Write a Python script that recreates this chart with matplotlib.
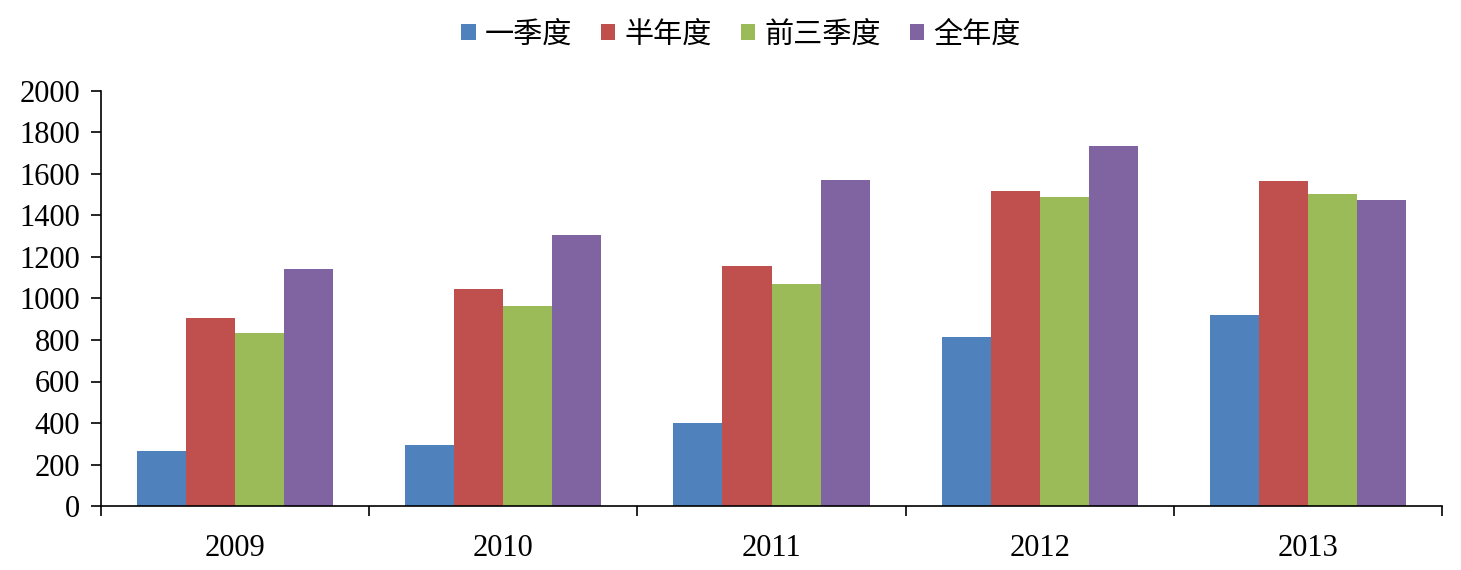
import matplotlib
matplotlib.use('Agg')
import matplotlib.pyplot as plt
import numpy as np

years = ['2009', '2010', '2011', '2012', '2013']
series = ['一季度', '半年度', '前三季度', '全年度']
q1 = [265, 293, 401, 815, 919]
h1 = [904, 1047, 1157, 1517, 1567]
q3 = [833, 965, 1072, 1490, 1503]
fy = [1141, 1308, 1569, 1734, 1475]
colors = ['#4f81bd', '#c0504d', '#9bbb59', '#8064a2']

plt.rcParams['font.family'] = ['Liberation Serif', 'Noto Sans CJK SC']

fig = plt.figure(figsize=(14.61, 5.70), dpi=100)
ax = fig.add_axes([101/1461, 1-506/570, (1442-101)/1461, (506-91)/570])

x = np.arange(len(years))
w = 0.183
for i, (vals, name) in enumerate(zip([q1, h1, q3, fy], series)):
    ax.bar(x + (i - 1.5) * w, vals, w, color=colors[i], label=name)

ax.set_xlim(-0.5, len(years) - 0.5)
ax.set_ylim(0, 2000)
ax.set_yticks(range(0, 2001, 200))
ax.set_xticks(x)
ax.set_xticklabels(years)
ax.set_xticks(np.arange(-0.5, len(years), 1), minor=True)
ax.tick_params(axis='x', which='major', length=0, labelsize=22, pad=20)
ax.tick_params(axis='x', which='minor', length=7, width=1.2, direction='out')
ax.tick_params(axis='y', length=7, width=1.2, direction='out', labelsize=22, pad=8)
for s in ['top', 'right']:
    ax.spines[s].set_visible(False)
for s in ['left', 'bottom']:
    ax.spines[s].set_linewidth(1.2)

leg = fig.legend(loc='upper center', bbox_to_anchor=(0.507, 1.012), ncol=4, frameon=False,
                 prop={'family': ['Noto Sans CJK SC'], 'size': 21},
                 handlelength=0.5, handleheight=0.5, handletextpad=0.3, columnspacing=1.0)

fig.savefig('out.png', dpi=100)
